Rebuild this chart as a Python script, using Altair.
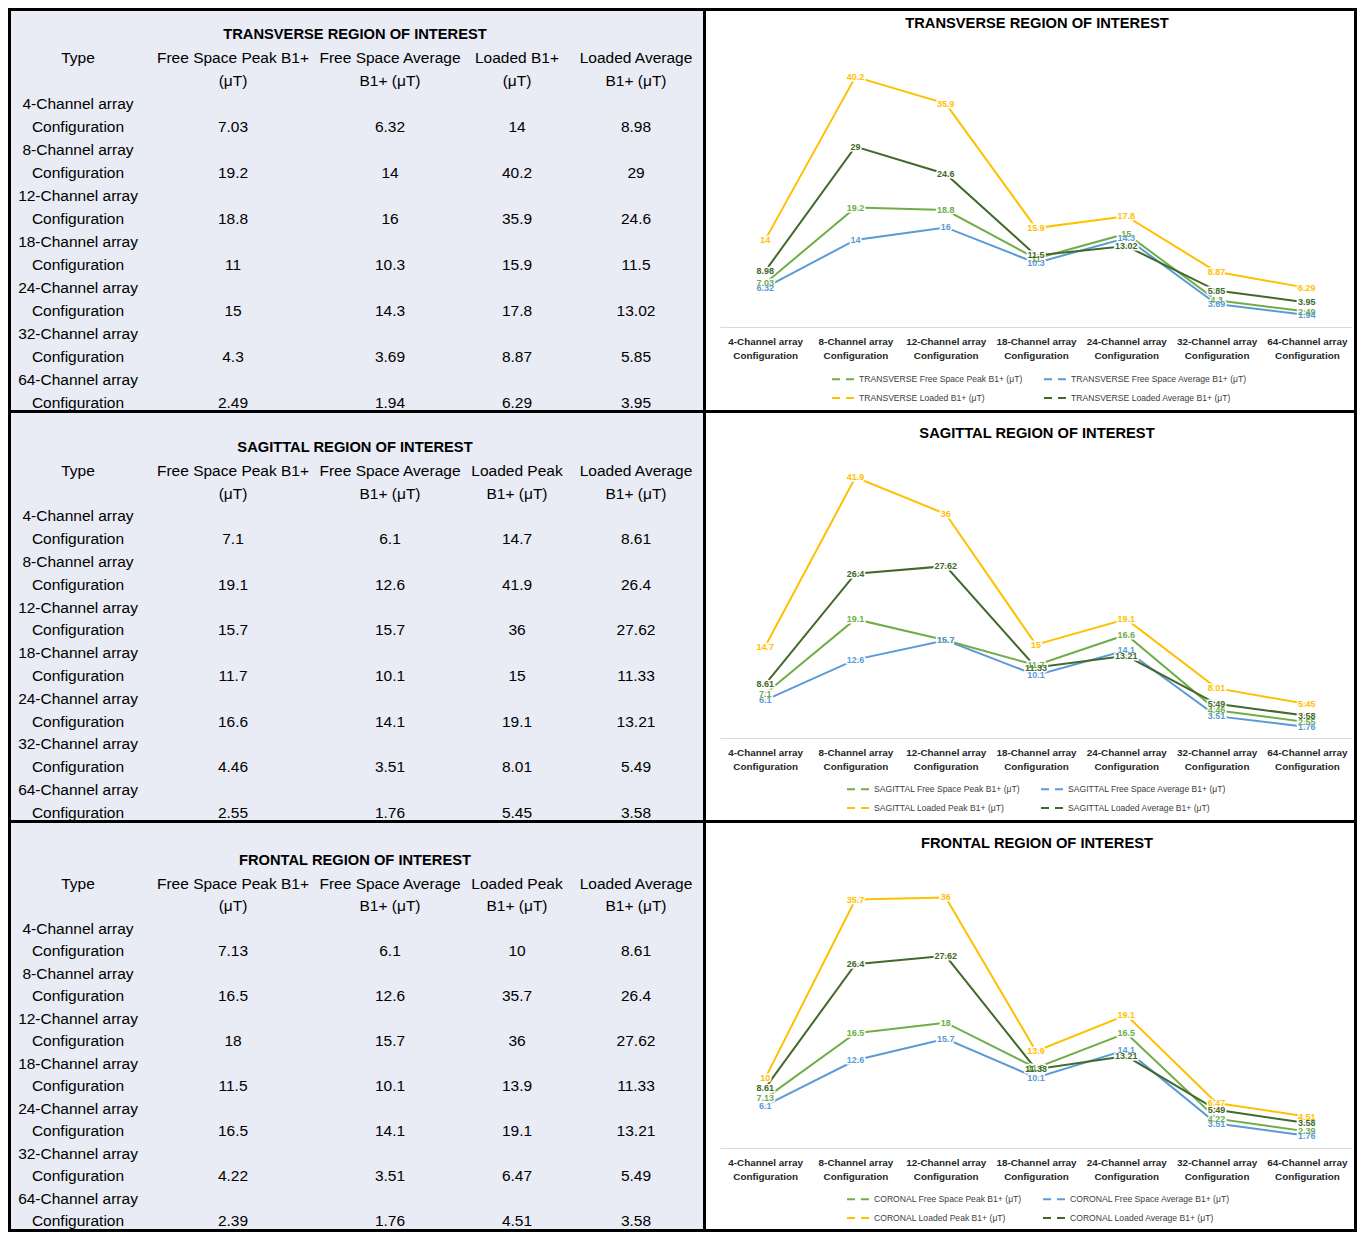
import altair as alt
import pandas as pd

FONT = "Liberation Sans"

CATEGORIES = [
    "4-Channel array Configuration",
    "8-Channel array Configuration",
    "12-Channel array Configuration",
    "18-Channel array Configuration",
    "24-Channel array Configuration",
    "32-Channel array Configuration",
    "64-Channel array Configuration",
]

TRANSVERSE_FS_PEAK = [7.03, 19.2, 18.8, 11, 15, 4.3, 2.49]
TRANSVERSE_FS_AVG = [6.32, 14, 16, 10.3, 14.3, 3.69, 1.94]
TRANSVERSE_LOADED = [14, 40.2, 35.9, 15.9, 17.8, 8.87, 6.29]
TRANSVERSE_LOADED_AVG = [8.98, 29, 24.6, 11.5, 13.02, 5.85, 3.95]

SAGITTAL_FS_PEAK = [7.1, 19.1, 15.7, 11.7, 16.6, 4.46, 2.55]
SAGITTAL_FS_AVG = [6.1, 12.6, 15.7, 10.1, 14.1, 3.51, 1.76]
SAGITTAL_LOADED_PEAK = [14.7, 41.9, 36, 15, 19.1, 8.01, 5.45]
SAGITTAL_LOADED_AVG = [8.61, 26.4, 27.62, 11.33, 13.21, 5.49, 3.58]

FRONTAL_FS_PEAK = [7.13, 16.5, 18, 11.5, 16.5, 4.22, 2.39]
FRONTAL_FS_AVG = [6.1, 12.6, 15.7, 10.1, 14.1, 3.51, 1.76]
FRONTAL_LOADED_PEAK = [10, 35.7, 36, 13.9, 19.1, 6.47, 4.51]
FRONTAL_LOADED_AVG = [8.61, 26.4, 27.62, 11.33, 13.21, 5.49, 3.58]

REGION_TITLES = [
    "TRANSVERSE REGION OF INTEREST",
    "SAGITTAL REGION OF INTEREST",
    "FRONTAL REGION OF INTEREST",
]

HEADERS_TRANSVERSE = [
    ["Type"],
    ["Free Space Peak B1+", "(μT)"],
    ["Free Space Average", "B1+ (μT)"],
    ["Loaded B1+", "(μT)"],
    ["Loaded Average", "B1+ (μT)"],
]
HEADERS_PEAK = [
    ["Type"],
    ["Free Space Peak B1+", "(μT)"],
    ["Free Space Average", "B1+ (μT)"],
    ["Loaded Peak", "B1+ (μT)"],
    ["Loaded Average", "B1+ (μT)"],
]

SERIES_TRANSVERSE = [
    "TRANSVERSE Free Space Peak B1+ (μT)",
    "TRANSVERSE Free Space Average B1+ (μT)",
    "TRANSVERSE Loaded B1+ (μT)",
    "TRANSVERSE Loaded Average B1+ (μT)",
]
SERIES_SAGITTAL = [
    "SAGITTAL Free Space Peak B1+ (μT)",
    "SAGITTAL Free Space Average B1+ (μT)",
    "SAGITTAL Loaded Peak B1+ (μT)",
    "SAGITTAL Loaded Average B1+ (μT)",
]
SERIES_CORONAL = [
    "CORONAL Free Space Peak B1+ (μT)",
    "CORONAL Free Space Average B1+ (μT)",
    "CORONAL Loaded Peak B1+ (μT)",
    "CORONAL Loaded Average B1+ (μT)",
]
SERIES_COLORS = ["#70AD47", "#5B9BD5", "#FFC000", "#43682B"]
Y_MAX = [45, 45, 40]

REGION_VALUES = [
    [TRANSVERSE_FS_PEAK, TRANSVERSE_FS_AVG, TRANSVERSE_LOADED, TRANSVERSE_LOADED_AVG],
    [SAGITTAL_FS_PEAK, SAGITTAL_FS_AVG, SAGITTAL_LOADED_PEAK, SAGITTAL_LOADED_AVG],
    [FRONTAL_FS_PEAK, FRONTAL_FS_AVG, FRONTAL_LOADED_PEAK, FRONTAL_LOADED_AVG],
]
REGION_HEADERS = [HEADERS_TRANSVERSE, HEADERS_PEAK, HEADERS_PEAK]
REGION_SERIES = [SERIES_TRANSVERSE, SERIES_SAGITTAL, SERIES_CORONAL]

# ---- layout (pixels) ----
ROW_H = [402, 410, 409]
TABLE_W = 695
CHART_W = 651
TABLE_FIRST = [25, 36.5, 39.5]
TABLE_STEP = [23.0, 22.8, 22.5]
COL_X = [68.5, 223.5, 380.5, 507.5, 626.5]
TITLE_X = 345.5
CHART_TITLE_Y = [14.5, 22, 22]
TITLE_SHIFT = 15
TITLE_DX = 7
PLOT_TOP = [37.5, 46.5, 48.1]
PLOT_BASE = [317.5, 326.5, 326.5]
LEGEND_X = [126.5, 141.5, 141.5]
LEGEND_ROW1 = [369.5, 377.5, 377.5]
LEGEND_SHIFT = 12
X_RANGE = [15.5, 647.5]
EDGE = 1.5


def fmt(v):
    return f"{v:g}"


def table_panel(r):
    H = ROW_H[r]
    step = TABLE_STEP[r]
    first = TABLE_FIRST[r]
    rows = []
    for c, head in enumerate(REGION_HEADERS[r]):
        for k, t in enumerate(head):
            rows.append({"line": 1 + k, "x": COL_X[c], "text": t})
    vals = REGION_VALUES[r]
    for i, cat in enumerate(CATEGORIES):
        rows.append({"line": 3 + 2 * i, "x": COL_X[0], "text": cat.replace(" Configuration", "")})
        rows.append({"line": 4 + 2 * i, "x": COL_X[0], "text": "Configuration"})
        for c in range(4):
            rows.append({"line": 4 + 2 * i, "x": COL_X[c + 1], "text": fmt(vals[c][i])})
    body_df = pd.DataFrame(rows)
    title_df = pd.DataFrame([{"line": 0, "x": TITLE_X, "text": REGION_TITLES[r]}])
    lo = -first / step
    hi = lo + H / step
    xs = alt.X("x:Q", scale=alt.Scale(domain=[0, TABLE_W], nice=False, zero=False), axis=None)
    ys = alt.Y("line:Q", scale=alt.Scale(domain=[lo, hi], reverse=True, nice=False, zero=False), axis=None)
    body = alt.Chart(body_df).mark_text(
        font=FONT, fontSize=15.5, color="black", align="center", baseline="middle"
    ).encode(x=xs, y=ys, text="text:N")
    head = alt.Chart(title_df).mark_text(
        font=FONT, fontSize=14.7, fontWeight="bold", color="black", align="center", baseline="middle"
    ).encode(x=xs, y=ys, text="text:N")
    return alt.layer(body, head).properties(
        width=TABLE_W,
        height=H,
        view=alt.ViewBackground(fill="#E9EBF5", stroke="black", strokeWidth=3),
    )


def chart_panel(r):
    H = ROW_H[r]
    names = REGION_SERIES[r]
    vals = REGION_VALUES[r]
    rows = []
    for s, name in enumerate(names):
        for i, cat in enumerate(CATEGORIES):
            rows.append({"series": name, "cat": cat, "value": vals[s][i], "label": fmt(vals[s][i]), "k": s})
    df = pd.DataFrame(rows)
    top, base = PLOT_TOP[r], PLOT_BASE[r]
    unit = (base - top) / Y_MAX[r]
    vmin = -(H - base) / unit
    vmax = base / unit

    color = alt.Color(
        "series:N",
        scale=alt.Scale(domain=names, range=SERIES_COLORS),
        legend=alt.Legend(
            title=None,
            orient="none",
            legendX=LEGEND_X[r],
            legendY=LEGEND_ROW1[r] - LEGEND_SHIFT,
            columns=2,
            direction="horizontal",
            symbolType="stroke",
            symbolStrokeWidth=2,
            symbolSize=484,
            symbolDash=[8, 6],
            labelFont=FONT,
            labelFontSize=8.6,
            labelColor="#404040",
            labelLimit=400,
            labelOffset=4,
            rowPadding=2,
            columnPadding=17,
        ),
    )
    x = alt.X(
        "cat:N",
        sort=CATEGORIES,
        scale=alt.Scale(domain=CATEGORIES, range=X_RANGE),
        axis=alt.Axis(
            title=None,
            orient="bottom",
            offset=-(H - base),
            domainColor="#D9D9D9",
            domainWidth=1,
            ticks=False,
            grid=False,
            labelAngle=0,
            labelFont=FONT,
            labelFontSize=9.9,
            labelFontWeight="bold",
            labelColor="#262626",
            labelLineHeight=14,
            labelPadding=9,
            labelBaseline="top",
            labelLimit=300,
            labelOverlap=False,
            labelExpr="[replace(datum.label, ' Configuration', ''), 'Configuration']",
        ),
    )
    y = alt.Y("value:Q", scale=alt.Scale(domain=[vmin, vmax], nice=False, zero=False), axis=None)
    base_chart = alt.Chart(df)
    lines = base_chart.mark_line(strokeWidth=2).encode(x=x, y=y, color=color, order="k:Q")
    halo = base_chart.mark_text(
        font=FONT, fontSize=9, fontWeight="bold", color="white", stroke="white", strokeWidth=3,
        align="center", baseline="middle",
    ).encode(x=x, y=y, text="label:N")
    labels = base_chart.mark_text(
        font=FONT, fontSize=9, fontWeight="bold", align="center", baseline="middle",
    ).encode(x=x, y=y, text="label:N", color=color)
    return alt.layer(lines, halo, labels).properties(
        width=CHART_W,
        height=H,
        title=alt.TitleParams(
            text=REGION_TITLES[r],
            font=FONT,
            fontSize=14.7,
            fontWeight="bold",
            color="black",
            anchor="middle",
            frame="group",
            baseline="middle",
            dx=TITLE_DX,
            offset=-(CHART_TITLE_Y[r] + TITLE_SHIFT),
        ),
        view=alt.ViewBackground(fill="white", stroke="black", strokeWidth=3),
    )


panels = []
for r in range(3):
    panels.append(table_panel(r))
    panels.append(chart_panel(r))

TOTAL_W = TABLE_W + CHART_W
TOTAL_H = sum(ROW_H)

chart = alt.concat(*panels, columns=2, spacing=0, bounds="flush", align="each").resolve_scale(
    x="independent", y="independent", color="independent"
).resolve_legend(color="independent").properties(
    autosize=alt.AutoSizeParams(type="none"),
    padding={"top": EDGE, "left": EDGE, "right": TOTAL_W + EDGE, "bottom": TOTAL_H + EDGE},
).configure(
    font=FONT, background="white"
)

chart.save("out.html", embed_options={"renderer": "svg", "actions": False})
